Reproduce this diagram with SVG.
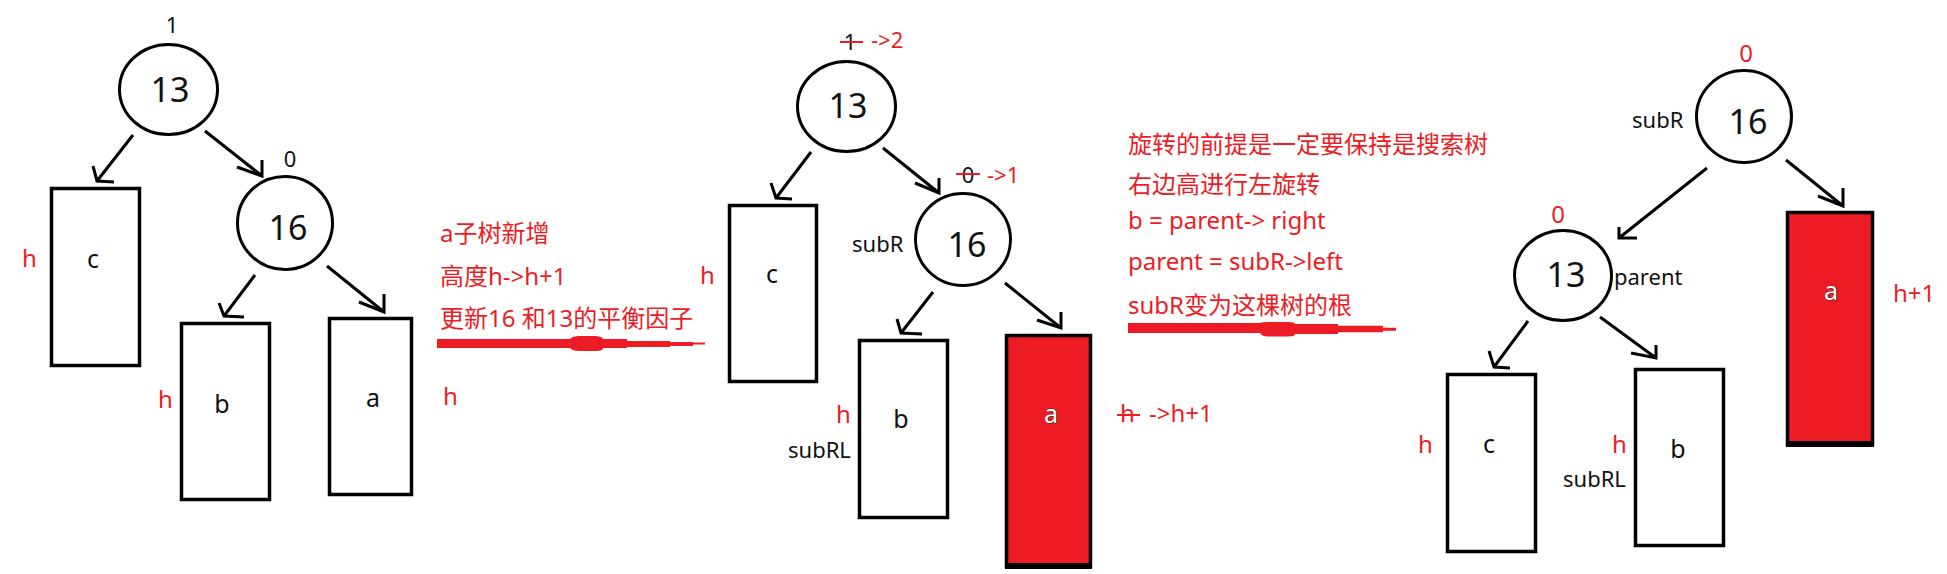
<svg xmlns="http://www.w3.org/2000/svg" width="1947" height="574" viewBox="0 0 1947 574">
<style>
text{font-family:'Noto Sans','Noto Sans CJK SC',sans-serif;}
.node{fill:#fff;stroke:#000;stroke-width:3;}
.box{fill:#fff;stroke:#000;stroke-width:3.5;}
.rbox{fill:#ED1C24;stroke:#000;stroke-width:3.5;}
.num{font-size:34px;fill:#111;text-anchor:middle;}
.lt{font-size:25px;fill:#111;text-anchor:middle;}
.lw{font-size:25px;fill:#fff;stroke:#222;stroke-width:0.9;paint-order:stroke;text-anchor:middle;}
.bf{font-size:22px;fill:#111;text-anchor:middle;}
.rl{font-size:24px;fill:#ED1C24;}
.rs{font-size:22px;fill:#ED1C24;}
.nm{font-size:22px;fill:#111;}
.note{font-size:24px;fill:#ED1C24;}
.arr{fill:none;stroke:#000;stroke-width:3;}
.strike{stroke:#ED1C24;stroke-width:2;}
</style>

<g id="connectors">
  <path class="arr" d="M133,135 L97,181 M93,166 L97,181 L114,182"/>
  <path class="arr" d="M205,131 L262,176 M262,160 L262,176 L237,167"/>
  <path class="arr" d="M255,275 L224,316 M219,303 L224,316 L244,317"/>
  <path class="arr" d="M327,266 L384,312 M384,294 L384,312 L359,302"/>

  <path class="arr" d="M811,152 L776,198 M771,183 L776,198 L792,199"/>
  <path class="arr" d="M883,148 L939,193 M939,178 L939,193 L915,183"/>
  <path class="arr" d="M933,292 L901,333 M897,319 L901,333 L922,334"/>
  <path class="arr" d="M1005,283 L1061,328 M1061,312 L1061,328 L1037,320"/>

  <path class="arr" d="M1707,168 L1619,238 M1619,227 L1619,238 L1637,238"/>
  <path class="arr" d="M1786,160 L1843,206 M1843,188 L1843,206 L1818,196"/>
  <path class="arr" d="M1528,321 L1494,367 M1489,351 L1494,367 L1510,368"/>
  <path class="arr" d="M1600,317 L1656,358 M1656,345 L1656,358 L1631,353"/>
</g>

<!-- Panel 1 -->
<g id="p1-n13">
  <ellipse class="node" cx="168.5" cy="89.5" rx="49" ry="45"/>
  <text class="num" x="170" y="102">13</text>
  <text class="bf" x="172" y="33">1</text>
</g>
<g id="p1-n16">
  <ellipse class="node" cx="285" cy="223" rx="47.5" ry="46.5"/>
  <text class="num" x="288" y="240">16</text>
  <text class="bf" x="290" y="167">0</text>
</g>
<g id="p1-c">
  <rect class="box" x="51.5" y="188.5" width="88" height="177"/>
  <text class="lt" x="93" y="268">c</text>
  <text class="rl" x="22" y="267">h</text>
</g>
<g id="p1-b">
  <rect class="box" x="181.5" y="323.5" width="88" height="176"/>
  <text class="lt" x="222" y="413">b</text>
  <text class="rl" x="158" y="408">h</text>
</g>
<g id="p1-a">
  <rect class="box" x="329.5" y="318.5" width="82" height="176"/>
  <text class="lt" x="373" y="407">a</text>
  <text class="rl" x="443" y="405">h</text>
</g>

<g id="note1">
  <text class="note" x="440" y="242">a子树新增</text>
  <text class="note" x="440" y="285">高度h-&gt;h+1</text>
  <text class="note" x="440" y="327">更新16 和13的平衡因子</text>
  <path fill="#ED1C24" d="M437,339 L570,339 Q572,336 580,336 L596,336 Q603,337 603,339 L627,339 L627,341 L670,341 L670,342 L693,342 L693,342.5 L705,342.5 L705,344.5 L693,344.5 L693,346 L670,346 L670,347 L627,347 L627,348 L603,348 Q603,351 596,351 L580,351 Q572,351 570,348 L437,348 Z"/>
</g>

<!-- Panel 2 -->
<g id="p2-n13">
  <ellipse class="node" cx="846.5" cy="106.5" rx="49" ry="45"/>
  <text class="num" x="848" y="118">13</text>
  <text class="bf" x="850" y="50">1</text>
  <line class="strike" x1="840" y1="42" x2="863" y2="42"/>
  <text class="rs" x="871" y="48">-&gt;2</text>
</g>
<g id="p2-n16">
  <ellipse class="node" cx="963" cy="239.5" rx="47.5" ry="46"/>
  <text class="num" x="967" y="257">16</text>
  <text class="bf" x="968" y="183">0</text>
  <line class="strike" x1="956" y1="174" x2="980" y2="174"/>
  <text class="rs" x="987" y="183">-&gt;1</text>
  <text class="nm" x="852" y="252">subR</text>
</g>
<g id="p2-c">
  <rect class="box" x="729.5" y="205.5" width="87" height="176"/>
  <text class="lt" x="772" y="283">c</text>
  <text class="rl" x="700" y="284">h</text>
</g>
<g id="p2-b">
  <rect class="box" x="859.5" y="340.5" width="88" height="177"/>
  <text class="lt" x="901" y="428">b</text>
  <text class="rl" x="836" y="423">h</text>
  <text class="nm" x="788" y="458">subRL</text>
</g>
<g id="p2-a">
  <rect class="rbox" x="1006.5" y="335.5" width="84" height="231"/>
  <rect x="1005" y="563" width="87" height="6" fill="#000"/>
  <text class="lw" x="1051" y="423">a</text>
  <text class="rl" x="1120" y="422">h</text>
  <line class="strike" x1="1117" y1="415" x2="1140" y2="415"/>
  <text class="rl" x="1149" y="422">-&gt;h+1</text>
</g>

<g id="note2">
  <text class="note" x="1128" y="153">旋转的前提是一定要保持是搜索树</text>
  <text class="note" x="1128" y="193">右边高进行左旋转</text>
  <text class="note" x="1128" y="229">b = parent-&gt; right</text>
  <text class="note" x="1128" y="270">parent = subR-&gt;left</text>
  <text class="note" x="1128" y="314">subR变为这棵树的根</text>
  <path fill="#ED1C24" d="M1128,323 L1260,323 Q1262,322 1268,322 L1288,322 Q1295,322 1295,324 L1338,324 L1338,325.7 L1383,325.7 L1383,327.7 L1396,327.7 L1396,330.7 L1383,330.7 L1383,332.3 L1338,332.3 L1338,334 L1295,334 Q1295,336.5 1288,336.5 L1268,336.5 Q1262,336.5 1260,333 L1128,333 Z"/>
</g>

<!-- Panel 3 -->
<g id="p3-n16">
  <ellipse class="node" cx="1744" cy="116.5" rx="47.5" ry="46"/>
  <text class="num" x="1748" y="134">16</text>
  <text class="rl" x="1746" y="62" text-anchor="middle">0</text>
  <text class="nm" x="1632" y="128">subR</text>
</g>
<g id="p3-n13">
  <ellipse class="node" cx="1563" cy="275.5" rx="48.5" ry="45"/>
  <text class="num" x="1566" y="287">13</text>
  <text class="rl" x="1558" y="223" text-anchor="middle">0</text>
  <text class="nm" x="1614" y="285">parent</text>
</g>
<g id="p3-a">
  <rect class="rbox" x="1787.5" y="212.5" width="85" height="232"/>
  <rect x="1786" y="441" width="88" height="6" fill="#000"/>
  <text class="lw" x="1831" y="300">a</text>
  <text class="rl" x="1893" y="302">h+1</text>
</g>
<g id="p3-c">
  <rect class="box" x="1447.5" y="374.5" width="88" height="177"/>
  <text class="lt" x="1489" y="453">c</text>
  <text class="rl" x="1418" y="453">h</text>
</g>
<g id="p3-b">
  <rect class="box" x="1635.5" y="369.5" width="88" height="176"/>
  <text class="lt" x="1678" y="458">b</text>
  <text class="rl" x="1612" y="453">h</text>
  <text class="nm" x="1563" y="487">subRL</text>
</g>
</svg>
